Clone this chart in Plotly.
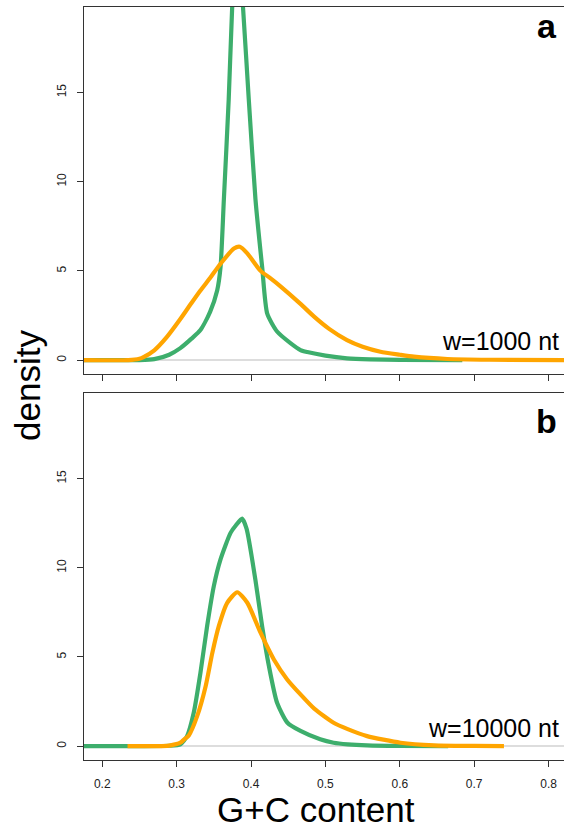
import plotly.graph_objects as go

# ---- data ----
x_green_a = [0.1755, 0.25, 0.27, 0.29, 0.305, 0.32, 0.332, 0.345, 0.3545, 0.359, 0.3635, 0.370, 0.3745,
             0.381, 0.3895, 0.397, 0.406, 0.415, 0.4218, 0.435, 0.453, 0.4665, 0.4756, 0.50, 0.529, 0.56, 0.60, 0.684]
y_green_a = [0.0, 0.0, 0.05, 0.3, 0.67, 1.2, 1.68, 2.7, 3.9, 5.2, 9.0, 14.6, 19.6,
             24.5, 19.6, 14.6, 9.0, 5.2, 2.6, 1.6, 0.95, 0.56, 0.45, 0.25, 0.1, 0.04, 0.01, 0.0]

x_orange_a = [0.1755, 0.235, 0.25, 0.2555, 0.27, 0.287, 0.305, 0.32, 0.332, 0.345, 0.359, 0.377, 0.385,
              0.395, 0.4128, 0.425, 0.44, 0.4665, 0.4844, 0.505, 0.529, 0.55, 0.574, 0.60, 0.619, 0.664,
              0.72, 0.8207]
y_orange_a = [0.0, 0.0, 0.08, 0.17, 0.55, 1.3, 2.3, 3.2, 3.9, 4.6, 5.4, 6.25, 6.35,
              5.98, 5.0, 4.62, 4.12, 3.15, 2.45, 1.75, 1.12, 0.75, 0.47, 0.3, 0.19, 0.06,
              0.02, 0.0]

x_green_b = [0.1755, 0.25, 0.29, 0.305, 0.314, 0.323, 0.332, 0.341, 0.35, 0.359, 0.3725, 0.38, 0.388,
             0.394, 0.406, 0.415, 0.424, 0.435, 0.449, 0.4665, 0.493, 0.511, 0.53, 0.556, 0.60, 0.665]
y_green_b = [0.0, 0.0, 0.02, 0.1, 0.56, 1.87, 4.11, 6.73, 8.97, 10.47, 11.96, 12.4, 12.76,
             12.2, 9.3, 6.7, 4.5, 2.43, 1.31, 0.85, 0.38, 0.19, 0.1, 0.04, 0.01, 0.0]

x_orange_b = [0.234, 0.28, 0.292, 0.305, 0.31, 0.3164, 0.3276, 0.339, 0.348, 0.3567, 0.368, 0.3815,
              0.395, 0.4128, 0.4307, 0.4486, 0.4665, 0.485, 0.511, 0.53, 0.556, 0.601, 0.6457, 0.70, 0.74]
y_orange_b = [0.0, 0.0, 0.04, 0.19, 0.37, 0.6, 1.68, 3.36, 5.23, 6.73, 8.04, 8.63,
              8.04, 6.36, 4.86, 3.74, 2.9, 2.1, 1.31, 0.95, 0.56, 0.19, 0.04, 0.01, 0.0]

x_tick_vals = [0.2, 0.3, 0.4, 0.5, 0.6, 0.7, 0.8]
x_tick_text = ["0.2", "0.3", "0.4", "0.5", "0.6", "0.7", "0.8"]
y_tick_vals = [0, 5, 10, 15]
y_tick_text = ["0", "5", "10", "15"]

GREEN = "#3DAE6C"
ORANGE = "#FFA500"
FONT = "Liberation Sans, Arial, Helvetica, sans-serif"

fig = go.Figure()

def line(x, y, color, xa, ya):
    fig.add_trace(go.Scatter(x=x, y=y, mode="lines", xaxis=xa, yaxis=ya,
                             line=dict(color=color, width=4.2, shape="spline", smoothing=0.6),
                             showlegend=False, hoverinfo="skip"))

line(x_green_a, y_green_a, GREEN, "x", "y")
line(x_orange_a, y_orange_a, ORANGE, "x", "y")
line(x_green_b, y_green_b, GREEN, "x2", "y2")
line(x_orange_b, y_orange_b, ORANGE, "x2", "y2")

xr = [0.1755, 0.8207]
yr = [-0.78, 19.79]
H = 831
T, B = 7, 71
plot_h = H - T - B

def py(p):
    return (H - B - p) / plot_h

axis_common = dict(showgrid=False, showline=True, linecolor="#333333", linewidth=1.2,
                   ticks="outside", ticklen=6, tickcolor="#333333", tickwidth=1.1,
                   tickfont=dict(family=FONT, size=12, color="#222222"))

fig.update_layout(
    width=564, height=831,
    margin=dict(l=84, r=0, t=T, b=B),
    paper_bgcolor="white", plot_bgcolor="white",
    xaxis=dict(domain=[0, 1], range=xr, anchor="y", mirror=True, tickvals=x_tick_vals,
               showticklabels=False, zeroline=False, **axis_common),
    yaxis=dict(domain=[py(374), 1.0], range=yr, anchor="x", tickvals=y_tick_vals, ticktext=y_tick_text,
               tickangle=-90, zeroline=True, zerolinecolor="#DDDDDD", zerolinewidth=1.5,
               ticklabelstandoff=6, **axis_common),
    xaxis2=dict(domain=[0, 1], range=xr, anchor="y2", mirror=True, tickvals=x_tick_vals,
                ticktext=x_tick_text, zeroline=False, ticklabelstandoff=6, **axis_common),
    yaxis2=dict(domain=[0, py(393.3)], range=yr, anchor="x2", tickvals=y_tick_vals, ticktext=y_tick_text,
                tickangle=-90, zeroline=True, zerolinecolor="#DDDDDD", zerolinewidth=1.5,
                ticklabelstandoff=6, **axis_common),
)

def px_x(p):
    return (p - 84) / 480

annos = [
    dict(text="<b>a</b>", x=px_x(559), y=py(26), xanchor="right", yanchor="middle",
         font=dict(family=FONT, size=34, color="black")),
    dict(text="<b>b</b>", x=px_x(559), y=py(421), xanchor="right", yanchor="middle",
         font=dict(family=FONT, size=34, color="black")),
    dict(text="w=1000 nt", x=px_x(561), y=py(341), xanchor="right", yanchor="middle",
         font=dict(family=FONT, size=25, color="black")),
    dict(text="w=10000 nt", x=px_x(561), y=py(728), xanchor="right", yanchor="middle",
         font=dict(family=FONT, size=25, color="black")),
    dict(text="density", x=px_x(27), y=py(386), xanchor="center", yanchor="middle", textangle=-90,
         font=dict(family=FONT, size=35, color="black")),
    dict(text="G+C content", x=px_x(316), y=py(809), xanchor="center", yanchor="middle",
         font=dict(family=FONT, size=35, color="black")),
]
for a in annos:
    a.update(xref="paper", yref="paper", showarrow=False)
fig.update_layout(annotations=annos)

fig.write_html("out.html", config={"displayModeBar": False},
               post_script="document.body.style.margin='0';document.body.style.overflow='hidden';")
